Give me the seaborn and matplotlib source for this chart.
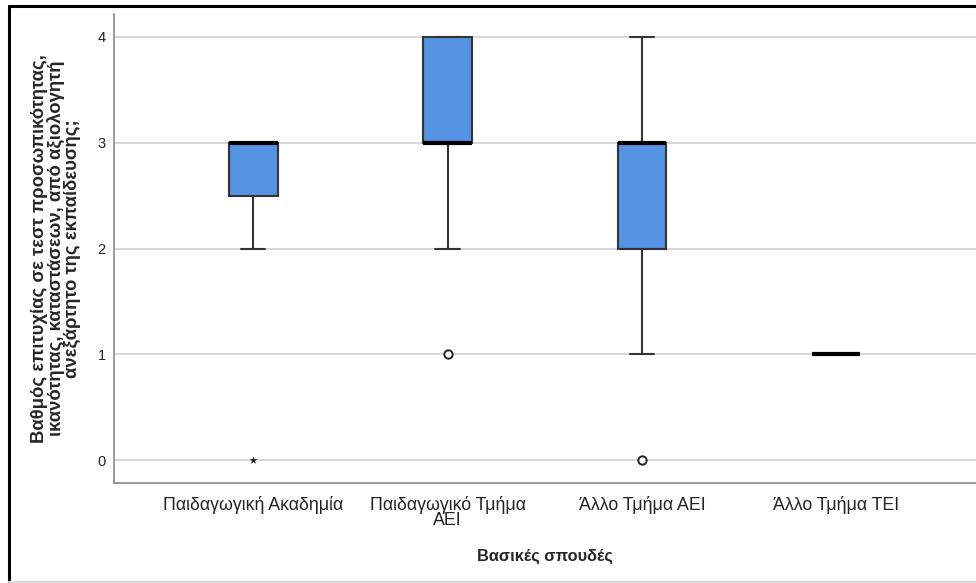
import numpy as np
import pandas as pd
import seaborn as sns
import matplotlib.pyplot as plt
from matplotlib.lines import Line2D

# categories and raw scores per group (Likert 0-4)
categories = ["Παιδαγωγική Ακαδημία", "Παιδαγωγικό Τμήμα\nΑΕΙ", "Άλλο Τμήμα ΑΕΙ", "Άλλο Τμήμα ΤΕΙ"]
scores_akadimia = [0, 2, 3, 3, 3, 3, 3]
scores_paid_aei = [1, 2, 3, 3, 3, 3, 4, 4, 4]
scores_allo_aei = [0, 1, 2, 2, 3, 3, 3, 3, 4]
scores_allo_tei = [1, 1]
y_ticks = [0, 1, 2, 3, 4]

y_label = ("Βαθμός επιτυχίας σε τεστ προσωπικότητας,\n"
           "ικανότητας, καταστάσεων, από αξιολογητή\n"
           "ανεξάρτητο της εκπαίδευσης;")
x_label = "Βασικές σπουδές"

groups = [scores_akadimia, scores_paid_aei, scores_allo_aei, scores_allo_tei]
df = pd.DataFrame({
    "group": [c for c, g in zip(categories, groups) for _ in g],
    "score": [v for g in groups for v in g],
})

# SPSS-style outliers: circles beyond 1.5 IQR, stars beyond 3 IQR
mild, extreme = [], []
for c, g in zip(categories, groups):
    q1, q3 = np.percentile(g, [25, 75])
    iqr = q3 - q1
    for v in g:
        if v < q1 - 3 * iqr or v > q3 + 3 * iqr:
            extreme.append((c, v))
        elif v < q1 - 1.5 * iqr or v > q3 + 1.5 * iqr:
            mild.append((c, v))
mild = pd.DataFrame(mild, columns=["group", "score"])
extreme = pd.DataFrame(extreme, columns=["group", "score"])

sns.set_style("white")
plt.rcParams["font.family"] = ["Liberation Sans", "DejaVu Sans"]

fig = plt.figure(figsize=(9.76, 5.83), dpi=100)
ax = fig.add_axes([0.1168, 0.1715, 0.8832, 0.8045])

edge = "#333333"
sns.boxplot(data=df, x="group", y="score", order=categories, ax=ax,
            color="#5492e3", width=0.25, whis=1.5, showfliers=False,
            linewidth=1.5, saturation=1,
            boxprops=dict(edgecolor=edge, linewidth=1.5),
            whiskerprops=dict(color=edge, linewidth=1.5),
            capprops=dict(color=edge, linewidth=1.5),
            medianprops=dict(color="black", linewidth=3))

if len(mild):
    sns.stripplot(data=mild, x="group", y="score", order=categories, ax=ax,
                  jitter=False, marker="o", size=6, facecolor="white",
                  edgecolor="#222222", linewidth=1.4, color="white", zorder=5)
if len(extreme):
    sns.stripplot(data=extreme, x="group", y="score", order=categories, ax=ax,
                  jitter=False, marker="*", size=6, color="#222222", zorder=5)

# whisker caps half the box width
for ln in ax.lines:
    xd = ln.get_xdata()
    if len(xd) == 2 and xd[0] != xd[1]:
        yd = ln.get_ydata()
        if yd[0] == yd[1] and ln.get_linewidth() < 2:
            mid = (xd[0] + xd[1]) / 2
            ln.set_xdata([mid - 0.0625, mid + 0.0625])

ax.set_ylim(-0.2175, 4.2175)
ax.set_xlim(-0.717, 3.72)
ax.set_yticks(y_ticks)
ax.yaxis.grid(True, color="#d0d0d0", linewidth=1.2)
ax.set_axisbelow(True)
ax.tick_params(axis="both", length=0, colors="#222222")
ax.tick_params(axis="y", pad=6, labelsize=10.5)
ax.tick_params(axis="x", pad=9, labelsize=12.8)
for lab in ax.get_xticklabels():
    lab.set_linespacing(0.9)

for s in ["top", "right"]:
    ax.spines[s].set_visible(False)
ax.spines["left"].set_color("#888888")
ax.spines["bottom"].set_color("#888888")
ax.spines["left"].set_linewidth(1.2)
ax.spines["bottom"].set_linewidth(1.2)

ax.set_xlabel(x_label, fontsize=11.8, fontweight="bold", labelpad=14)
ax.set_ylabel(y_label, fontsize=13.3, fontweight="bold", labelpad=12,
              linespacing=0.92)

# outer frame of the exported chart
fig.add_artist(Line2D([9 / 976, 9 / 976], [0, 1 - 6 / 583], color="black", linewidth=2.2))
fig.add_artist(Line2D([9 / 976, 1], [1 - 6 / 583, 1 - 6 / 583], color="black", linewidth=2.2))
fig.add_artist(Line2D([9 / 976, 1], [1.5 / 583, 1.5 / 583], color="#d8d8d8", linewidth=1.5))

fig.savefig("out.png", dpi=100)
